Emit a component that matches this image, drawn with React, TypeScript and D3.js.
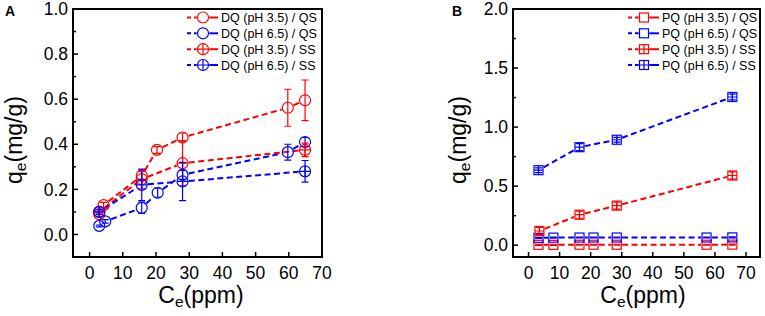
import React from 'react';
import * as d3 from 'd3';

const RED = '#ff0000';
const BLUE = '#0000ff';
const FONT = '"Liberation Sans", Arial, Helvetica, sans-serif';

// ---------- ticks ----------
const X_TICKS = [0, 10, 20, 30, 40, 50, 60, 70];
const A_Y_TICKS = [0, 0.2, 0.4, 0.6, 0.8, 1.0];
const A_Y_MINOR = [0.1, 0.3, 0.5, 0.7, 0.9];
const B_Y_TICKS = [0, 0.5, 1.0, 1.5, 2.0];
const B_Y_MINOR = [0.25, 0.75, 1.25, 1.75];

// ---------- Panel A (DQ) ----------
const A_LABELS = ['DQ (pH 3.5) / QS', 'DQ (pH 6.5) / QS', 'DQ (pH 3.5) / SS', 'DQ (pH 6.5) / SS'];
const A_QS35_X = [2.9, 4.2, 15.7, 20.3, 28, 59.7, 64.9];
const A_QS35_Y = [0.09, 0.13, 0.26, 0.375, 0.43, 0.562, 0.595];
const A_QS35_E = [0.01, 0.012, 0.02, 0.015, 0.02, 0.082, 0.09];
const A_QS65_X = [2.9, 4.7, 15.7, 20.5, 28, 59.7, 64.9];
const A_QS65_Y = [0.038, 0.058, 0.118, 0.185, 0.264, 0.365, 0.41];
const A_QS65_E = [0.004, 0.008, 0.025, 0.02, 0.02, 0.035, 0.02];
const A_SS35_X = [2.9, 15.7, 28, 64.9];
const A_SS35_Y = [0.1, 0.245, 0.316, 0.375];
const A_SS35_E = [0.01, 0.04, 0.1, 0.03];
const A_SS65_X = [2.9, 15.7, 28, 64.9];
const A_SS65_Y = [0.1, 0.22, 0.235, 0.28];
const A_SS65_E = [0.01, 0.07, 0.085, 0.048];

// ---------- Panel B (PQ) ----------
const B_LABELS = ['PQ (pH 3.5) / QS', 'PQ (pH 6.5) / QS', 'PQ (pH 3.5) / SS', 'PQ (pH 6.5) / SS'];
const B_QS35_X = [3.2, 8, 16.4, 20.9, 28.4, 57.3, 65.6];
const B_QS35_Y = [0.003, 0.003, 0.004, 0.004, 0.004, 0.004, 0.005];
const B_QS35_E = [0.004, 0.004, 0.004, 0.004, 0.004, 0.004, 0.004];
const B_QS65_X = [3.2, 8, 16.4, 20.9, 28.4, 57.3, 65.6];
const B_QS65_Y = [0.062, 0.064, 0.065, 0.065, 0.065, 0.065, 0.066];
const B_QS65_E = [0.004, 0.004, 0.004, 0.004, 0.004, 0.004, 0.004];
const B_SS35_X = [3.5, 16.4, 28.4, 65.6];
const B_SS35_Y = [0.12, 0.258, 0.335, 0.59];
const B_SS35_E = [0.03, 0.03, 0.03, 0.03];
const B_SS65_X = [3.2, 16.4, 28.4, 65.6];
const B_SS65_Y = [0.635, 0.83, 0.893, 1.255];
const B_SS65_E = [0.02, 0.03, 0.02, 0.025];

type Shape = 'circle' | 'circlePlus' | 'square' | 'squarePlus';
interface Series { xs: number[]; ys: number[]; es: number[]; color: string; shape: Shape; label: string; }

const CR = 5.5; // circle radius
const SQ = 9;   // square side

function gapFor(shape: Shape, ux: number, uy: number) {
  if (shape === 'circle' || shape === 'circlePlus') return CR + 0.8;
  return SQ / 2 / Math.max(Math.abs(ux), Math.abs(uy)) + 0.8;
}

function Marker({ cx, cy, shape, color }: { cx: number; cy: number; shape: Shape; color: string }) {
  const sw = 1.2;
  if (shape === 'circle' || shape === 'circlePlus') {
    return (
      <g>
        <circle cx={cx} cy={cy} r={CR} fill="none" stroke={color} strokeWidth={sw} />
        {shape === 'circlePlus' && (
          <path d={`M${cx - CR},${cy}H${cx + CR}M${cx},${cy - CR}V${cy + CR}`} stroke={color} strokeWidth={sw} />
        )}
      </g>
    );
  }
  const h = SQ / 2;
  return (
    <g>
      <rect x={cx - h} y={cy - h} width={SQ} height={SQ} fill="none" stroke={color} strokeWidth={sw} />
      {shape === 'squarePlus' && (
        <path d={`M${cx - h},${cy}H${cx + h}M${cx},${cy - h}V${cy + h}`} stroke={color} strokeWidth={sw} />
      )}
    </g>
  );
}

interface PanelProps {
  xRange: [number, number]; xDomain: [number, number];
  yRange: [number, number]; yDomain: [number, number];
  yTicks: number[]; yMinor: number[];
  series: Series[];
  letter: string; letterX: number;
  yTitleX: number; xTitleCX: number;
  legendMarkerX: number;
}

function Panel(p: PanelProps) {
  const x = d3.scaleLinear().domain(p.xDomain).range(p.xRange);
  const y = d3.scaleLinear().domain(p.yDomain).range(p.yRange);
  const [x0, x1] = p.xRange;
  const [yb, yt] = p.yRange;
  const fmt = d3.format('.1f');
  const dash = '6,3.5';
  const legendRows = [17.5, 33.3, 49.2, 65];

  return (
    <g>
      {/* lines */}
      {p.series.map((s, si) => (
        <g key={'l' + si}>
          {s.xs.slice(1).map((_, i) => {
            const ax = x(s.xs[i]), ay = y(s.ys[i]);
            const bx = x(s.xs[i + 1]), by = y(s.ys[i + 1]);
            const L = Math.hypot(bx - ax, by - ay);
            const ux = (bx - ax) / L, uy = (by - ay) / L;
            const g = gapFor(s.shape, ux, uy);
            if (L <= 2 * g) return null;
            return (
              <line key={i} x1={ax + ux * g} y1={ay + uy * g} x2={bx - ux * g} y2={by - uy * g}
                stroke={s.color} strokeWidth={2} strokeDasharray={dash} />
            );
          })}
        </g>
      ))}
      {/* markers and error bars */}
      {p.series.map((s, si) => (
        <g key={'m' + si}>
          {s.xs.map((xv, i) => {
            const cx = x(xv), cy = y(s.ys[i]);
            const top = y(s.ys[i] + s.es[i]), bot = y(s.ys[i] - s.es[i]);
            return (
              <g key={i}>
                <Marker cx={cx} cy={cy} shape={s.shape} color={s.color} />
                <path d={`M${cx},${top}V${bot}M${cx - 3.5},${top}H${cx + 3.5}M${cx - 3.5},${bot}H${cx + 3.5}`}
                  stroke={s.color} strokeWidth={1.2} fill="none" />
              </g>
            );
          })}
        </g>
      ))}
      {/* frame */}
      <rect x={x0} y={yt} width={x1 - x0} height={yb - yt} fill="none" stroke="#000" strokeWidth={2} />
      {/* x ticks */}
      {X_TICKS.map(t => (
        <g key={'xt' + t}>
          <line x1={x(t)} x2={x(t)} y1={yb} y2={yb - 5} stroke="#000" strokeWidth={1.5} />
          <text x={x(t)} y={278.5} textAnchor="middle" fontSize={17.5} fontFamily={FONT}>{t}</text>
        </g>
      ))}
      {/* y ticks */}
      {p.yTicks.map(t => (
        <g key={'yt' + t}>
          <line x1={x0} x2={x0 + 5} y1={y(t)} y2={y(t)} stroke="#000" strokeWidth={1.5} />
          <text x={x0 - 5} y={y(t) + 6.2} textAnchor="end" fontSize={17.5} fontFamily={FONT}>{fmt(t)}</text>
        </g>
      ))}
      {p.yMinor.map(t => (
        <line key={'ym' + t} x1={x0} x2={x0 + 3} y1={y(t)} y2={y(t)} stroke="#000" strokeWidth={1.5} />
      ))}
      {/* titles */}
      <text x={p.xTitleCX} y={303} textAnchor="middle" fontSize={23} fontFamily={FONT}>
        C<tspan fontSize={15.5} dy={4}>e</tspan><tspan dy={-4}>(ppm)</tspan>
      </text>
      <text transform={`translate(${p.yTitleX},140) rotate(-90)`} textAnchor="middle" fontSize={23} fontFamily={FONT}>
        q<tspan fontSize={15.5} dy={4}>e</tspan><tspan dy={-4}>(mg/g)</tspan>
      </text>
      <text x={p.letterX} y={15.5} fontSize={14} fontWeight="bold" fontFamily={FONT}>{p.letter}</text>
      {/* legend */}
      {p.series.map((s, i) => {
        const cy = legendRows[i];
        const cx = p.legendMarkerX;
        const g = gapFor(s.shape, 1, 0);
        return (
          <g key={'lg' + i}>
            <line x1={cx - 16} x2={cx - g} y1={cy} y2={cy} stroke={s.color} strokeWidth={2} strokeDasharray="4,3" />
            <line x1={cx + g} x2={cx + 15} y1={cy} y2={cy} stroke={s.color} strokeWidth={2} />
            <Marker cx={cx} cy={cy} shape={s.shape} color={s.color} />
            <text x={cx + 18} y={cy + 4.5} fontSize={12.5} fontFamily={FONT}>{s.label}</text>
          </g>
        );
      })}
    </g>
  );
}

export default function App() {
  const aSeries: Series[] = [
    { xs: A_QS35_X, ys: A_QS35_Y, es: A_QS35_E, color: RED, shape: 'circle', label: A_LABELS[0] },
    { xs: A_QS65_X, ys: A_QS65_Y, es: A_QS65_E, color: BLUE, shape: 'circle', label: A_LABELS[1] },
    { xs: A_SS35_X, ys: A_SS35_Y, es: A_SS35_E, color: RED, shape: 'circlePlus', label: A_LABELS[2] },
    { xs: A_SS65_X, ys: A_SS65_Y, es: A_SS65_E, color: BLUE, shape: 'circlePlus', label: A_LABELS[3] },
  ];
  const bSeries: Series[] = [
    { xs: B_QS35_X, ys: B_QS35_Y, es: B_QS35_E, color: RED, shape: 'square', label: B_LABELS[0] },
    { xs: B_QS65_X, ys: B_QS65_Y, es: B_QS65_E, color: BLUE, shape: 'square', label: B_LABELS[1] },
    { xs: B_SS35_X, ys: B_SS35_Y, es: B_SS35_E, color: RED, shape: 'squarePlus', label: B_LABELS[2] },
    { xs: B_SS65_X, ys: B_SS65_Y, es: B_SS65_E, color: BLUE, shape: 'squarePlus', label: B_LABELS[3] },
  ];
  return (
    <svg width={765} height={316} style={{ position: 'absolute', left: 0, top: 0, background: '#fff' }}>
      <Panel xRange={[73, 322]} xDomain={[-5, 70]} yRange={[257, 9]} yDomain={[-0.1, 1.0]}
        yTicks={A_Y_TICKS} yMinor={A_Y_MINOR} series={aSeries} letter="A" letterX={5}
        yTitleX={22} xTitleCX={201} legendMarkerX={203} />
      <Panel xRange={[513, 760]} xDomain={[-5, 74.5]} yRange={[257, 9]} yDomain={[-0.1, 2.0]}
        yTicks={B_Y_TICKS} yMinor={B_Y_MINOR} series={bSeries} letter="B" letterX={452}
        yTitleX={466} xTitleCX={643} legendMarkerX={644} />
    </svg>
  );
}
